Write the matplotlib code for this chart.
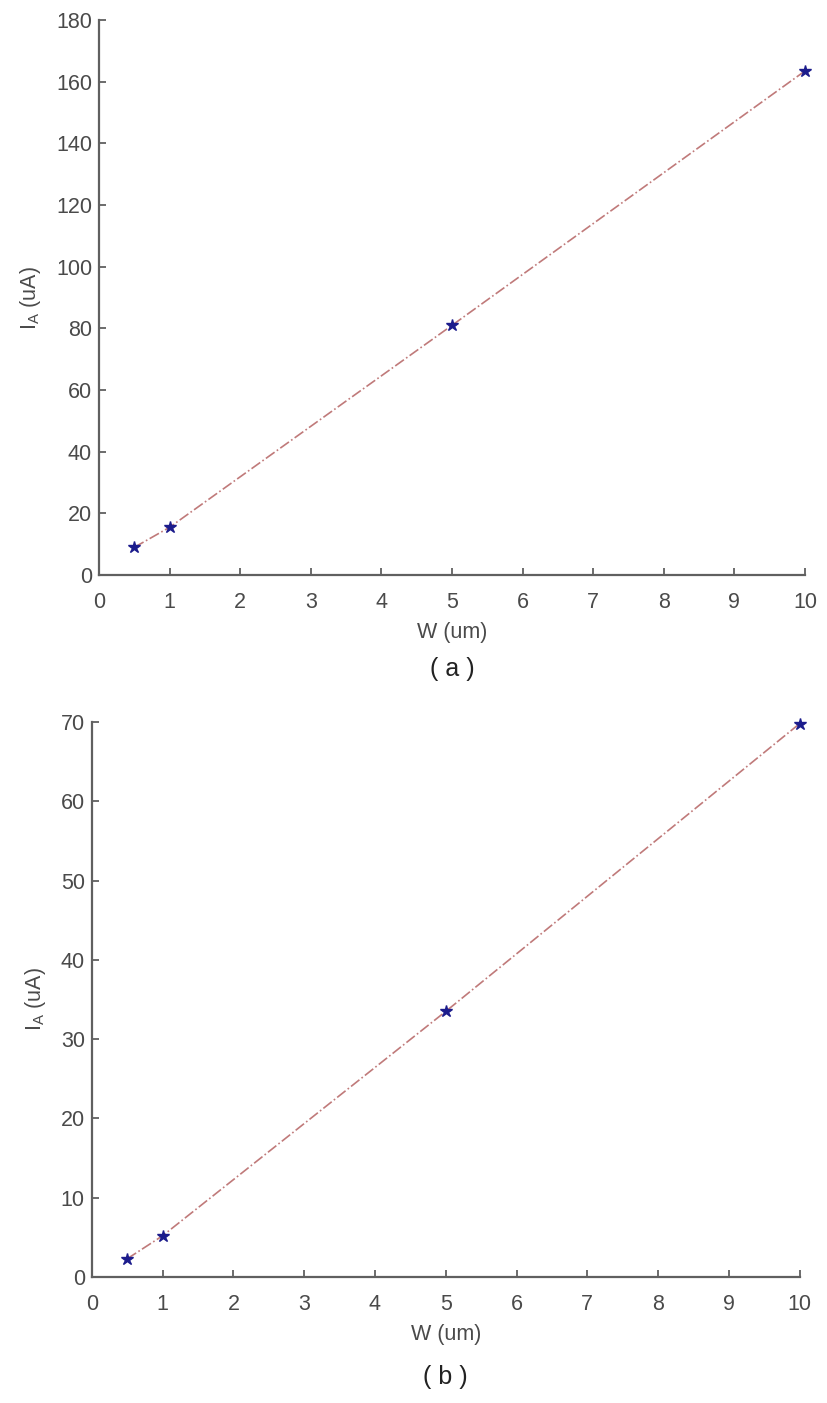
import matplotlib
matplotlib.use('Agg')
import matplotlib.pyplot as plt

# data
w_um = [0.5, 1, 5, 10]
ia_a = [9.0, 15.5, 81.0, 163.5]
ia_b = [2.3, 5.2, 33.5, 69.8]

plt.rcParams['font.family'] = ['Liberation Sans', 'DejaVu Sans']
grey = '#4a4a4a'

fig = plt.figure(figsize=(8.27, 14.03), dpi=100)
ax_a = fig.add_axes([0.1197, 0.5901, 0.8537, 0.3956])
ax_b = fig.add_axes([0.111, 0.0898, 0.856, 0.3956])


def style(ax, ymax, ystep, label, label_y):
    ax.set_xlim(0, 10)
    ax.set_ylim(0, ymax)
    ax.set_xticks(range(0, 11))
    ax.set_yticks(range(0, ymax + 1, ystep))
    for s in ['top', 'right']:
        ax.spines[s].set_visible(False)
    for s in ['left', 'bottom']:
        ax.spines[s].set_color('#606060')
        ax.spines[s].set_linewidth(1.6)
    ax.tick_params(direction='in', length=5, width=1.3, color='#606060',
                   labelsize=15.5, labelcolor=grey)
    ax.tick_params(axis='x', pad=12)
    ax.tick_params(axis='y', pad=5)
    ax.set_xlabel('W (um)', fontsize=15.5, color=grey, labelpad=7)
    ax.set_ylabel('I$_\\mathregular{A}$ (uA)', fontsize=15.5, color=grey, labelpad=9)
    ax.text(0.5, label_y, '( %s )' % label, transform=ax.transAxes,
            ha='center', va='center', fontsize=18, color='#222222')


for ax, ys, ymax, ystep, label, label_y in [(ax_a, ia_a, 180, 20, 'a', -0.17),
                                            (ax_b, ia_b, 70, 10, 'b', -0.18)]:
    ax.plot(w_um, ys, linestyle='-.', color='#c07a7a', linewidth=1.2)
    ax.plot(w_um, ys, linestyle='none', marker='*', markersize=9,
            color='#1c1c8c', markeredgecolor='#1c1c8c', clip_on=False, zorder=3)
    style(ax, ymax, ystep, label, label_y)

plt.savefig('out.png')
